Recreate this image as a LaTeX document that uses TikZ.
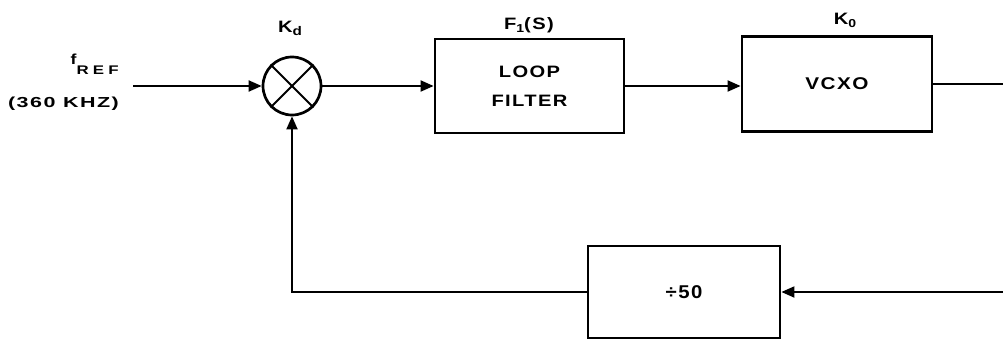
\documentclass[tikz,border=0pt]{standalone}
\usepackage{graphicx}
\usepackage{fontspec}
\setmainfont{Liberation Sans}
\newfontfamily\lbl[LetterSpace=7]{Liberation Sans Bold}
\newcommand{\xs}[2][1.22]{\scalebox{#1}[1]{#2}}
\usetikzlibrary{arrows.meta}
\tikzset{
  blk/.style={draw, line width=2.8pt, inner sep=0pt},
  wire/.style={line width=1.9pt},
  conn/.style={wire, -{Triangle[length=13pt,width=11pt]}},
  lbltext/.style={font=\lbl\fontsize{16.5}{29}\selectfont, align=center},
  gain/.style={font=\lbl\fontsize{16.5}{16.5}\selectfont, inner sep=0pt},
}
\begin{document}
\begin{tikzpicture}[x=1pt,y=-1pt]
\useasboundingbox (0,0) rectangle (1003,342);
% blocks
\node[draw, circle, line width=2.7pt, minimum size=58pt, inner sep=0pt] (mix) at (292,86) {};
\draw[line width=2.1pt] (mix.north west) -- (mix.south east);
\draw[line width=2.1pt] (mix.north east) -- (mix.south west);
\node[blk, lbltext, minimum width=189pt, minimum height=94pt] (lf) at (529.5,86) {\xs{LOOP}\\\xs{FILTER}};
\node[blk, lbltext, font=\lbl\fontsize{17}{20}\selectfont, minimum width=190pt, minimum height=95pt] (vcxo) at (837,84) {\xs{VCXO}};
\node[blk, minimum width=192pt, minimum height=92pt, font=\lbl\fontsize{18.5}{18.5}\selectfont] (dv) at (684,292) {\xs[1.1]{÷50}};
% labels
\node[gain, anchor=base] (kd) at (290,33) {\xs{K}\raisebox{-3pt}{\xs{\fontsize{12.5}{12.5}\selectfont d}}};
\node[gain, anchor=base] (fs) at (529,30) {\xs{F}\raisebox{-3pt}{\xs{\fontsize{11.5}{11.5}\selectfont 1}}\xs{(S)}};
\node[gain, anchor=base] (ko) at (845,25) {\xs{K}\raisebox{-2.5pt}{\xs{\fontsize{11.5}{11.5}\selectfont 0}}};
\node[inner sep=0pt, anchor=base east, font=\lbl\fontsize{14.5}{14.5}\selectfont] (fref) at (119,65)
  {\xs{f}\raisebox{-10pt}{\addfontfeature{LetterSpace=25}\fontsize{12.5}{12.5}\selectfont\xs[1.35]{REF}}};
\node[inner sep=0pt, anchor=base east, font=\lbl\fontsize{14.5}{14.5}\selectfont] (fval) at (119,108) {\xs[1.48]{(360 KHZ)}};
% free ends
\coordinate (fin) at (133,86);
\coordinate (vout) at (1003,84);
\coordinate (fbin) at (1003,292);
% connectors
\draw[conn] (fin) -- (mix.west);
\draw[conn] (mix.east) -- (lf.west);
\draw[conn] (lf.east) -- (vcxo.west |- lf.east);
\draw[wire] (vcxo.east) -- (vout);
\draw[conn] (fbin) -- (dv.east);
\draw[conn] (dv.west) -| (mix.south);
\end{tikzpicture}
\end{document}
